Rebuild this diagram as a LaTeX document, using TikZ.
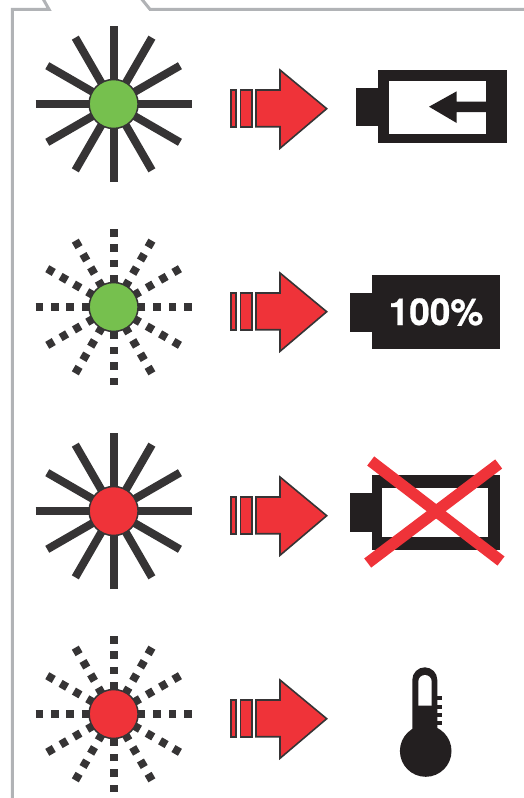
\documentclass[tikz,border=0pt]{standalone}
\usepackage{fontspec}
\setmainfont{TeX Gyre Heros}
\usetikzlibrary{calc}
\definecolor{redfill}{HTML}{EF3339}
\definecolor{greenfill}{HTML}{76C04E}
\definecolor{raygray}{HTML}{363435}
\definecolor{batblack}{HTML}{231F20}
\definecolor{framegray}{HTML}{B1B3B6}

\begin{document}
\begin{tikzpicture}[
  x=1pt, y=-1pt,
  frame/.style   = {draw=framegray, line width=3pt, miter limit=10},
  ray/.style     = {draw=raygray, line width=8pt},
  dotray/.style  = {ray, dash pattern=on 7.5pt off 7.9pt},
  lamp/.style    = {circle, draw=raygray, line width=1.5pt, minimum size=49pt, inner sep=0pt},
  redarrow/.style = {draw=raygray, fill=redfill, line width=1.6pt, line join=miter},
  battery/.style = {fill=batblack},
  hole/.style    = {fill=white},
  cross/.style   = {draw=redfill, line width=11.5pt},
]
\useasboundingbox (0,0) rectangle (524,798);

% --- frame ---------------------------------------------------------------
\draw[frame] (12.3,800) -- (12.3,9.3) -- (49,9.3) -- (42,-3);
\draw[frame] (140,-3) -- (150,9.3) -- (526,9.3);

% --- lamps and arrows ----------------------------------------------------
\foreach \n/\ly/\lcol/\rst in {1/104/greenfill/ray, 2/307/greenfill/dotray,
                               3/511/redfill/ray, 4/714/redfill/dotray} {
  \coordinate (mid\n) at (113.6,\ly);
  \foreach \a/\r in {0/78,30/76.6,60/76.6,90/78,120/76.6,150/76.6,
                     180/78,210/76.6,240/76.6,270/78,300/76.6,330/76.6} {
    \draw[\rst] ($(mid\n)+(\a:\r)$) -- (mid\n);
  }
  \node[lamp, fill=\lcol] (lamp\n) at (mid\n) {};
  \begin{scope}[shift={(0,\ly)}]
    \draw[redarrow] (231.2,-14) rectangle (236.2,22.7);
    \draw[redarrow] (240.5,-14) rectangle (252,22.7);
    \draw[redarrow] (256,-14) -- (280,-14) -- (280,-34) -- (326.7,4.7)
      -- (280,44.3) -- (280,22.7) -- (256,22.7) -- cycle;
  \end{scope}
}

% --- charging battery ----------------------------------------------------
\fill[battery] (356,87.7) rectangle (380,126);
\fill[battery] (378.3,70) rectangle (506.7,143.3);
\fill[hole] (389,80.7) rectangle (485.7,133.7);
\fill[battery] (429,106.7) -- (456.7,91.3) -- (456.7,101.7) -- (487,101.7)
  -- (487,112) -- (456.7,112) -- (456.7,123) -- cycle;

% --- full battery --------------------------------------------------------
\fill[battery] (350,293.3) rectangle (373,331.7);
\fill[battery] (371.7,275) rectangle (500,349.3);
\node[text=white, font=\fontsize{37}{37}\selectfont\bfseries\addfontfeature{FakeBold=0.6}, inner sep=0pt]
  (full) at (436,312) {100\%};

% --- empty battery -------------------------------------------------------
\fill[battery] (350,493.3) rectangle (373,531.7);
\fill[battery] (371.7,475) rectangle (500,549.7);
\fill[hole] (382,488) rectangle (488,537);
\draw[cross] (370.7,461) -- (501,561);
\draw[cross] (498.7,464) -- (367.7,563);

% --- thermometer ---------------------------------------------------------
\fill[battery] (425.7,751) circle (25.8);
\fill[battery] (412.3,735) -- (412.3,679.8) arc[start angle=180, end angle=360, radius=12.5]
  -- (437.3,735) -- cycle;
\fill[hole] (418.3,705.7) -- (418.3,681.7) arc[start angle=180, end angle=360, radius=6.7]
  -- (431.7,705.7) -- cycle;
\foreach \ty in {696,704.5,712.7,721} {
  \fill[battery] (436,\ty) rectangle (441.7,\ty+4.2);
}
\end{tikzpicture}
\end{document}
